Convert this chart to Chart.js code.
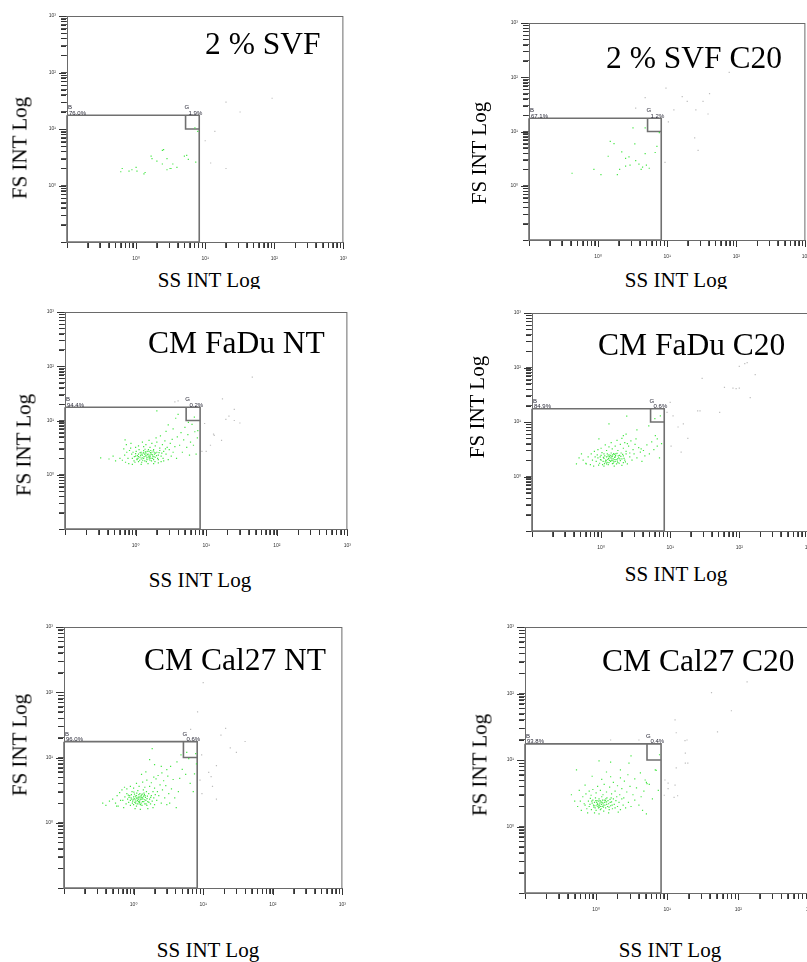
<!DOCTYPE html>
<html>
<head>
<meta charset="utf-8">
<script src="https://cdn.jsdelivr.net/npm/chart.js@4.4.0/dist/chart.umd.min.js"></script>
<style>
  html, body { margin: 0; padding: 0; background: #fff; overflow: hidden; }
  body { width: 807px; height: 962px; position: relative; }
  canvas { position: absolute; }
  .t { position: absolute; white-space: nowrap; line-height: 1; color: #000;
       font-family: "Liberation Serif", "DejaVu Serif", "Noto Serif", "Times New Roman", serif; }
  .title { font-size: 31.5px; transform: translateY(-50%); }
  .axt { font-size: 21px; transform: translate(-50%, -50%); }
  .axt.rot { transform: translate(-50%, -50%) rotate(-90deg); }
  #clipTop { position: absolute; left: 0; top: 0; width: 807px; height: 289px; overflow: hidden; }
</style>
</head>
<body>
<div id="clipTop"></div>
<script>
// panel names and gate percentages
const panelNames = ['2 % SVF', '2 % SVF C20', 'CM FaDu NT', 'CM FaDu C20', 'CM Cal27 NT', 'CM Cal27 C20'];
const gatePctB = ['76.0%', '67.1%', '94.4%', '84.9%', '96.0%', '93.8%'];
const gatePctG = ['1.9%', '1.2%', '0.2%', '0.6%', '0.6%', '0.4%'];

// gate bounds (SS, FS)
const gateBx = [0.1, 8.2];
const gateBy = [0.1, 17.5];
const gateGx = [5.2, 8.2];
const gateGy = [10, 17.5];

// axis decades and tick labels
const decades = [0.1, 1, 10, 100, 1000];
const tickLabels = { 1: '10⁰', 10: '10¹', 100: '10²', 1000: '10³' };

// events [SS, FS] - 2 % SVF
const svfGreen = [[0.63,2.0],[0.79,1.8],[0.87,1.9],[1.0,2.1],[1.3,1.6],[1.65,3.3],[1.7,3.0],[2.0,2.7],[2.4,2.4],[2.5,4.3],[2.8,3.0],[3.1,2.0],[3.2,2.0],[3.4,2.4],[3.9,2.1],[5.0,3.3],[5.4,3.4],[5.7,2.9],[7.3,2.6],[7.1,10.5],[7.8,9.1],[1.35,1.7],[2.4,4.2],[1.03,1.8],[2.8,1.9],[0.6,1.75]];
const svfGrey = [[13.8,9.1],[10,6.2],[20,30],[32,20],[93,35],[12,2.5],[20,2.0]];

// 2 % SVF C20
const svfC20Green = [[0.42,1.7],[0.87,2.0],[1.1,1.6],[1.9,1.6],[2.05,2.0],[1.5,6.6],[1.7,6.0],[1.4,3.5],[2.2,4.2],[2.5,3.2],[2.8,3.4],[2.9,2.4],[2.5,2.3],[3.5,2.9],[3.4,5.9],[3.9,2.5],[4.2,2.0],[4.4,2.2],[4.8,3.9],[5.0,2.4],[5.5,2.1],[6.7,4.1],[7.1,5.3],[7.7,9.5],[4.8,11.7],[3.2,11.7]];
const svfC20Grey = [[3.5,27],[4.8,42],[9.6,63],[12.5,25],[10.4,15],[16.5,44],[19.5,36],[26,25],[33,36],[41,50],[39,21],[25,7.6],[28,4.5],[9.3,2.7],[79,123],[365,158]];

// CM FaDu NT
const fadNtGreen = [[0.9,2.0],[0.95,1.8],[1.0,2.2],[1.05,1.9],[1.1,2.4],[1.1,1.75],[1.15,2.1],[1.2,2.6],[1.2,1.95],[1.25,2.3],[1.3,2.0],[1.3,2.8],[1.35,1.8],[1.4,2.2],[1.4,2.5],[1.45,1.9],[1.5,2.4],[1.5,2.1],[1.55,2.7],[1.6,1.85],[1.6,2.3],[1.65,2.0],[1.7,2.6],[1.75,2.2],[1.8,1.9],[1.8,2.9],[1.85,2.4],[1.9,2.1],[2.0,2.6],[2.05,2.0],[2.1,2.3],[2.2,2.8],[0.88,2.4],[0.92,2.6],[0.98,1.7],[1.02,2.7],[1.08,2.0],[1.12,2.9],[1.18,2.25],[1.22,1.7],[1.28,2.5],[1.32,2.15],[1.38,2.65],[1.42,1.75],[1.48,2.35],[1.52,2.9],[1.58,2.05],[1.62,2.55],[1.68,1.8],[1.72,2.35],[1.78,2.75],[1.82,2.15],[1.88,1.75],[1.92,2.5],[1.98,2.25],[2.1,1.9],[2.15,2.55],[1.0,2.45],[1.06,2.25],[1.14,1.85],[1.24,2.05],[1.34,2.4],[1.44,2.05],[1.54,2.2],[1.64,2.8],[1.74,2.0],[1.84,2.6],[1.26,1.85],[1.36,2.95],[1.46,2.7],[1.56,1.95],[1.66,2.4],[1.16,2.55],[0.96,2.15],[1.04,1.95],[1.2,2.4],[1.4,2.3],[1.6,2.15],[1.3,2.6],[1.1,2.15],
  [0.6,2.0],[0.65,1.85],[0.7,2.3],[0.72,1.7],[0.75,2.6],[0.78,2.0],[0.8,1.6],[0.82,2.8],[0.85,3.1],[0.9,1.55],[1.0,3.2],[1.1,3.4],[1.2,1.55],[1.3,3.3],[1.4,3.6],[1.5,1.6],[1.6,3.2],[1.7,3.8],[1.8,1.6],[1.9,3.4],[2.0,4.0],[2.1,1.65],[2.2,3.1],[2.3,2.2],[2.4,3.6],[2.5,1.8],[2.5,2.7],[2.6,4.2],[2.7,2.4],[2.8,3.2],[2.9,1.9],[3.0,2.9],[3.1,3.8],[3.2,2.2],[3.3,4.5],[3.4,2.6],[3.6,3.3],[3.8,2.0],[0.68,3.0],[0.74,3.6],[0.71,4.4],[0.86,3.8],[1.25,4.0],[1.55,4.3],[1.95,4.8],[2.25,5.2],[2.35,2.5],[2.45,2.0],[2.65,3.0],[2.3,1.75],
  [0.32,2.05],[0.42,1.95],[0.48,2.2],[0.52,1.8],[3.9,5.0],[4.2,3.5],[4.4,6.0],[4.6,2.6],[4.8,4.4],[5.0,7.5],[5.3,3.2],[5.5,5.5],[5.8,2.3],[6.0,4.0],[6.3,8.5],[6.6,3.5],[6.9,6.2],[7.2,2.4],[7.5,4.8],[2.9,8.3],[3.7,11],[2.0,15],[2.7,6.3],[3.4,7.0],[7.6,6.5],[6.8,11.5],[5.6,9.2],[4.0,13]];
const fadNtGrey = [[17,25],[25,16],[19,10.5],[25,10],[9.5,8.8],[12.7,5.6],[16.5,4.3],[10,2.7],[11.5,3.5],[4,23],[3.6,22],[45,63],[13,5.3],[8.7,2.7],[21,12],[30,9]];

// CM FaDu C20
const fadC20Green = [[0.85,1.9],[0.9,2.2],[0.95,1.75],[1.0,2.0],[1.0,2.45],[1.05,1.65],[1.1,2.15],[1.1,2.6],[1.15,1.85],[1.2,2.3],[1.2,1.7],[1.25,2.05],[1.3,2.5],[1.3,1.8],[1.35,2.2],[1.4,1.95],[1.4,2.7],[1.45,2.35],[1.5,1.75],[1.5,2.1],[1.55,2.55],[1.6,1.9],[1.6,2.3],[1.65,2.05],[1.7,2.65],[1.75,1.8],[1.8,2.2],[1.85,2.45],[1.9,1.95],[1.95,2.7],[2.0,2.1],[2.1,1.8],[2.1,2.4],[2.2,2.0],[2.3,2.6],[0.88,2.5],[0.92,1.62],[0.97,2.3],[1.03,2.75],[1.07,1.9],[1.13,2.4],[1.17,2.0],[1.23,2.6],[1.27,1.65],[1.33,2.35],[1.37,1.9],[1.43,2.1],[1.47,2.5],[1.53,1.85],[1.57,2.25],[1.63,2.6],[1.67,1.7],[1.73,2.1],[1.77,2.4],[1.83,1.75],[1.87,2.1],[1.93,2.35],[2.05,2.55],[2.15,2.15],[2.25,1.85],[1.28,2.15],[1.18,1.95],[1.38,2.45],[1.48,1.95],[1.58,2.05],[1.08,2.25],[0.98,2.05],[1.22,1.82],[1.42,2.28],[1.62,2.42],[1.32,1.98],[1.12,1.72],[1.52,2.62],[1.72,1.92],[1.26,2.36],[1.46,1.72],
  [0.55,2.0],[0.6,1.75],[0.65,2.3],[0.7,1.65],[0.72,2.6],[0.75,2.0],[0.78,1.55],[0.8,2.9],[0.82,2.3],[0.9,3.1],[1.0,3.3],[1.1,1.55],[1.2,3.0],[1.3,3.5],[1.45,3.2],[1.55,1.55],[1.6,3.6],[1.75,3.0],[1.9,3.9],[2.0,1.6],[2.1,3.3],[2.2,4.2],[2.3,2.9],[2.4,1.7],[2.5,3.6],[2.6,2.3],[2.7,4.5],[2.8,2.0],[2.9,3.1],[3.0,2.6],[3.1,3.9],[3.3,2.2],[3.5,3.4],[3.7,2.8],[3.9,1.9],[4.1,3.0],[4.3,2.4],[1.15,3.8],[1.4,4.2],[1.7,4.6],[2.0,5.0],[2.4,4.0],[2.6,2.7],[0.93,4.9],[3.2,4.9],
  [0.44,1.7],[0.52,2.6],[0.61,1.7],[0.48,2.2],[3.8,3.2],[4.6,3.8],[5.0,2.6],[5.4,4.3],[5.8,3.1],[6.1,5.6],[6.5,4.9],[6.5,3.6],[7.0,2.2],[7.5,4.0],[4.9,8.5],[2.35,12.8],[1.3,9.2],[2.1,5.6],[2.3,6.0],[3.3,7.2],[6.0,11.5],[7.2,13]];
const fadC20Grey = [[10.3,3.6],[14.4,2.8],[13,8.1],[15.5,9.2],[11,12.9],[25,16],[27,16],[52,15],[29,63],[61,43],[81,42],[90,41],[100,42],[144,28],[100,105],[120,118],[130,123],[170,74],[10,23],[9,15],[18,5]];

// CM Cal27 NT
const calNtGreen = [[0.7,2.2],[0.75,2.5],[0.78,1.95],[0.8,2.8],[0.82,2.3],[0.85,2.05],[0.88,2.6],[0.9,1.85],[0.92,2.4],[0.95,3.0],[0.97,2.15],[1.0,2.5],[1.0,1.9],[1.03,2.75],[1.05,2.25],[1.07,2.0],[1.1,2.6],[1.1,1.8],[1.12,2.35],[1.15,3.1],[1.17,2.1],[1.2,2.5],[1.2,1.95],[1.23,2.8],[1.25,2.25],[1.28,2.0],[1.3,2.65],[1.32,1.85],[1.35,2.4],[1.38,3.2],[1.4,2.1],[1.43,2.7],[1.45,1.95],[1.48,2.45],[1.5,2.2],[1.53,3.0],[1.55,1.85],[1.58,2.55],[1.6,2.1],[1.65,2.8],[1.7,2.3],[1.75,1.95],[1.8,2.6],[1.85,2.15],[1.9,3.0],[1.95,2.4],[2.0,1.9],[2.05,2.7],[0.86,2.45],[0.93,2.7],[0.99,2.25],[1.04,2.05],[1.09,2.4],[1.14,2.2],[1.19,2.7],[1.24,2.4],[1.29,2.3],[1.34,2.1],[1.39,2.55],[1.44,2.25],[1.02,2.35],[1.06,2.55],[1.13,1.95],[1.18,2.3],[1.22,2.15],[1.27,2.55],[1.33,2.75],[0.96,2.0],[0.9,2.2],[1.08,2.15],[1.16,2.45],[1.26,1.9],[1.36,2.3],[1.46,2.6],[1.56,2.35],[1.66,2.05],[1.76,2.45],[1.01,2.95],[0.84,2.65],[1.11,2.85],[1.21,2.05],[1.31,2.45],[1.41,2.85],[1.51,1.95],[0.94,2.3],
  [0.5,2.3],[0.55,2.0],[0.58,2.6],[0.6,1.8],[0.63,2.9],[0.65,2.2],[0.68,3.2],[0.72,1.7],[0.74,3.5],[0.8,3.3],[0.9,3.6],[1.0,3.4],[1.05,1.65],[1.1,4.0],[1.2,3.6],[1.25,1.6],[1.35,4.2],[1.45,3.5],[1.55,4.5],[1.6,1.65],[1.7,3.6],[1.8,4.1],[1.9,1.7],[2.0,3.4],[2.1,4.7],[2.15,2.2],[2.2,3.0],[2.3,2.6],[2.4,3.8],[2.5,2.0],[2.6,3.2],[2.7,4.4],[2.8,2.4],[2.9,3.7],[3.0,1.9],[3.2,2.8],[3.3,2.0],[3.5,3.3],[3.7,4.6],[4.1,1.7],[4.4,3.0],[2.25,5.3],[2.55,5.8],[1.95,5.0],[3.1,5.2],[1.3,5.5],[1.5,6.0],[3.9,2.4],
  [0.36,2.0],[0.4,1.85],[0.45,2.15],[0.57,1.8],[1.85,13.7],[1.7,9.3],[2.5,7.3],[3.4,7.3],[4.2,8.6],[5.6,5.5],[6.2,9.6],[4.8,11],[8.0,8.0],[5.0,6.6],[6.5,4.0],[7.2,3.0],[4.6,4.8],[3.0,6.5],[2.0,7.8],[5.8,12],[7.5,5.6],[7.8,11.5]];
const calNtGrey = [[9.5,11],[15.5,7.5],[12,5.9],[21,28],[24.5,14],[40,17.6],[13.6,3.6],[9.6,2.8],[15.5,2.3],[6.6,27],[10,140],[8.3,50],[13,5.1],[30,12],[18,22],[9,4.5]];

// CM Cal27 C20
const calC20Green = [[0.7,2.1],[0.74,1.85],[0.78,2.4],[0.8,2.0],[0.83,2.65],[0.86,1.8],[0.88,2.25],[0.9,2.5],[0.93,1.95],[0.95,2.3],[0.98,2.7],[1.0,2.05],[1.0,1.75],[1.03,2.45],[1.05,2.2],[1.08,1.9],[1.1,2.6],[1.12,2.1],[1.15,1.8],[1.17,2.35],[1.2,2.8],[1.22,2.0],[1.25,2.25],[1.28,1.7],[1.3,2.5],[1.33,2.1],[1.36,1.9],[1.4,2.35],[1.42,2.7],[1.45,2.0],[1.5,2.2],[1.53,1.8],[1.57,2.55],[1.6,2.05],[1.65,2.35],[1.7,1.85],[1.75,2.6],[1.8,2.15],[1.85,1.9],[1.9,2.45],[1.95,2.8],[2.0,2.0],[2.1,2.3],[2.2,1.8],[2.3,2.6],[2.4,2.1],[0.82,2.15],[0.87,2.4],[0.92,2.1],[0.97,1.9],[1.02,2.3],[1.06,2.0],[1.09,2.4],[1.13,2.25],[1.16,2.0],[1.19,2.15],[1.23,2.5],[1.27,1.95],[1.32,2.3],[1.37,2.6],[1.41,2.15],[1.47,2.45],[1.52,1.95],[1.58,2.3],[1.63,2.7],[1.68,2.1],[1.07,2.1],[1.11,1.95],[1.04,2.15],[0.99,2.45],[1.14,2.45],[1.18,1.85],[0.94,2.05],[1.26,2.1],[1.35,2.45],[1.21,2.3],
  [0.55,2.0],[0.6,2.4],[0.62,1.75],[0.65,2.8],[0.68,2.2],[0.72,3.1],[0.76,1.6],[0.8,3.4],[0.85,2.95],[0.9,3.6],[0.95,1.6],[1.0,3.2],[1.05,4.0],[1.1,1.55],[1.15,3.5],[1.25,3.0],[1.3,4.3],[1.4,3.3],[1.5,1.6],[1.55,3.9],[1.65,3.1],[1.75,4.6],[1.85,3.4],[2.0,4.1],[2.05,1.65],[2.15,3.0],[2.3,3.7],[2.45,2.7],[2.5,4.8],[2.6,1.9],[2.7,3.3],[2.85,2.3],[3.0,4.0],[3.1,2.0],[3.3,3.0],[3.5,2.5],[3.7,3.8],[4.0,2.1],[4.3,2.8],[4.5,1.75],[4.7,3.4],[5.1,1.55],[0.58,3.5],[0.7,4.2],[1.2,5.1],[1.6,5.6],[2.2,5.4],[2.8,6.0],[3.5,5.2],
  [0.53,7.1],[1.1,9.7],[1.6,9.3],[3.1,11.5],[2.9,9.0],[0.88,5.7],[2.2,7.1],[6.8,7.1],[5.1,4.6],[5.2,4.4],[5.6,4.3],[4.9,5.0],[7.0,7.0],[7.5,3.5],[6.2,2.6],[1.4,6.6],[0.45,3.0],[0.5,2.4],[7.8,12],[4.2,6.4]];
const calC20Grey = [[9.3,5.0],[10.3,4.5],[10.3,3.7],[13.4,7.6],[18,9],[12.9,4.2],[12.5,2.75],[14,2.9],[9.1,2.95],[17.8,19.5],[18,12.7],[13.4,25.7],[12.9,40],[51,26.5],[80,55],[42,103],[133,150],[19.5,9],[4,20],[1.6,20],[19,20]];

const greenSets = [svfGreen, svfC20Green, fadNtGreen, fadC20Green, calNtGreen, calC20Green];
const greySets = [svfGrey, svfC20Grey, fadNtGrey, fadC20Grey, calNtGrey, calC20Grey];

// plot box placement on the page (pixels) and text anchors
const boxes = [
  { L: 67, T: 16, R: 347, B: 242, title: [205, 44], yt: [20, 148], xt: [209, 280], clip: true },
  { L: 529, T: 23, R: 809, B: 240, title: [606, 58], yt: [479, 153], xt: [676, 280], clip: true },
  { L: 65, T: 312, R: 351, B: 529, title: [148, 343], yt: [24, 445], xt: [200, 580] },
  { L: 532, T: 313, R: 812, B: 531, title: [598, 345], yt: [477, 407], xt: [676, 574] },
  { L: 64, T: 627, R: 346, B: 888, title: [144, 660], yt: [20, 745], xt: [208, 950] },
  { L: 525, T: 627, R: 813, B: 893, title: [602, 661], yt: [480, 765], xt: [670, 950] }
];

const tickValues = [];
for (let d = 0; d < decades.length - 1; d++) {
  for (let m = 1; m <= 9; m++) tickValues.push(m * decades[d]);
}
tickValues.push(decades[decades.length - 1]);

const toPts = arr => arr.map(p => ({ x: p[0], y: p[1] }));

function addText(txt, cls, x, y, parent) {
  const d = document.createElement('div');
  d.className = 't ' + cls;
  d.textContent = txt;
  d.style.left = x + 'px';
  d.style.top = y + 'px';
  (parent || document.body).appendChild(d);
}

// plot frame (top and right edges)
const frame = {
  id: 'frame',
  beforeDatasetsDraw(chart) {
    const a = chart.chartArea, ctx = chart.ctx;
    ctx.save();
    ctx.strokeStyle = '#6a6a6a';
    ctx.lineWidth = 1;
    ctx.strokeRect(a.left + 0.5, a.top + 0.5, a.right - a.left - 1, a.bottom - a.top);
    ctx.restore();
  }
};

// short tick marks outside the plot for every log tick
const tickMarks = {
  id: 'tickMarks',
  afterDraw(chart) {
    const { ctx, chartArea: a, scales: { x, y } } = chart;
    ctx.save();
    ctx.strokeStyle = '#333';
    ctx.lineWidth = 1;
    ctx.beginPath();
    x.ticks.forEach(t => {
      const px = Math.round(x.getPixelForValue(t.value)) + 0.5;
      ctx.moveTo(px, a.bottom + 1);
      ctx.lineTo(px, a.bottom + (tickLabels[t.value] ? 7 : 6));
    });
    y.ticks.forEach(t => {
      const py = Math.round(y.getPixelForValue(t.value)) + 0.5;
      ctx.moveTo(a.left - 1, py);
      ctx.lineTo(a.left - (tickLabels[t.value] ? 8 : 6), py);
    });
    ctx.stroke();
    ctx.restore();
  }
};

function makePanel(i) {
  const b = boxes[i];
  const cv = document.createElement('canvas');
  cv.width = b.R - b.L + 48;
  cv.height = b.B - b.T + 38;
  cv.style.left = (b.L - 40) + 'px';
  cv.style.top = (b.T - 8) + 'px';
  document.body.appendChild(cv);

  const gateText = {
    id: 'gateText',
    afterDatasetsDraw(chart) {
      const { ctx, scales: { x, y } } = chart;
      const top = y.getPixelForValue(gateBy[1]);
      const left = x.getPixelForValue(gateBx[0]);
      const gl = x.getPixelForValue(gateGx[0]);
      const gr = x.getPixelForValue(gateGx[1]);
      ctx.save();
      ctx.font = '6px "Liberation Sans", "DejaVu Sans", Arial, sans-serif';
      ctx.fillStyle = '#2a2a38';
      ctx.textAlign = 'left';
      ctx.fillText('B', left + 1, top - 6);
      ctx.fillText(gatePctB[i], left + 2, top - 0.5);
      ctx.fillText('G', gl - 1, top - 6);
      ctx.textAlign = 'right';
      ctx.fillText(gatePctG[i], gr + 3, top - 0.5);
      ctx.restore();
    }
  };

  const gateLine = {
    showLine: true, pointRadius: 0, borderColor: '#707070',
    borderWidth: 1.6, tension: 0, fill: false, clip: false
  };

  const axisCommon = {
    type: 'logarithmic',
    min: decades[0],
    max: decades[decades.length - 1],
    afterBuildTicks: s => { s.ticks = tickValues.map(v => ({ value: v })); },
    grid: { display: true, drawOnChartArea: false, drawTicks: true, tickLength: 6, color: '#555', lineWidth: 1 },
    border: { display: true, color: '#555', width: 1 }
  };

  new Chart(cv, {
    type: 'scatter',
    data: {
      datasets: [
        { data: toPts(greenSets[i]), backgroundColor: '#45e645', pointStyle: 'rect', pointRadius: 0.85, borderWidth: 0 },
        { data: toPts(greySets[i]), backgroundColor: '#bdbdbd', pointStyle: 'rect', pointRadius: 0.85, borderWidth: 0 },
        Object.assign({ data: [
          { x: gateBx[0], y: gateBy[1] }, { x: gateBx[1], y: gateBy[1] },
          { x: gateBx[1], y: gateBy[0] }, { x: gateBx[0], y: gateBy[0] },
          { x: gateBx[0], y: gateBy[1] }
        ] }, gateLine),
        Object.assign({ data: [
          { x: gateGx[0], y: gateGy[1] }, { x: gateGx[0], y: gateGy[0] }, { x: gateGx[1], y: gateGy[0] }
        ] }, gateLine)
      ]
    },
    options: {
      responsive: false,
      animation: false,
      devicePixelRatio: 1,
      events: [],
      layout: { padding: { top: 8, right: 8, left: 0, bottom: 0 } },
      plugins: { legend: { display: false }, tooltip: { enabled: false } },
      scales: {
        x: Object.assign({}, axisCommon, {
          afterFit: s => { s.height = 30; },
          ticks: { autoSkip: false, maxRotation: 0, minRotation: 0, padding: 8, color: '#333',
                   font: { size: 5, family: '"Liberation Sans", "DejaVu Sans", Arial' }, callback: v => tickLabels[v] || '' }
        }),
        y: Object.assign({}, axisCommon, {
          afterFit: s => { s.width = 40; },
          ticks: { autoSkip: false, padding: 5, color: '#333',
                   font: { size: 5, family: '"Liberation Sans", "DejaVu Sans", Arial' }, callback: v => tickLabels[v] || '' }
        })
      }
    },
    plugins: [frame, gateText, tickMarks]
  });

  addText(panelNames[i], 'title', b.title[0], b.title[1]);
  addText('FS INT Log', 'axt rot', b.yt[0], b.yt[1]);
  addText('SS INT Log', 'axt', b.xt[0], b.xt[1], b.clip ? document.getElementById('clipTop') : null);
}

for (let i = 0; i < boxes.length; i++) makePanel(i);
</script>
</body>
</html>
